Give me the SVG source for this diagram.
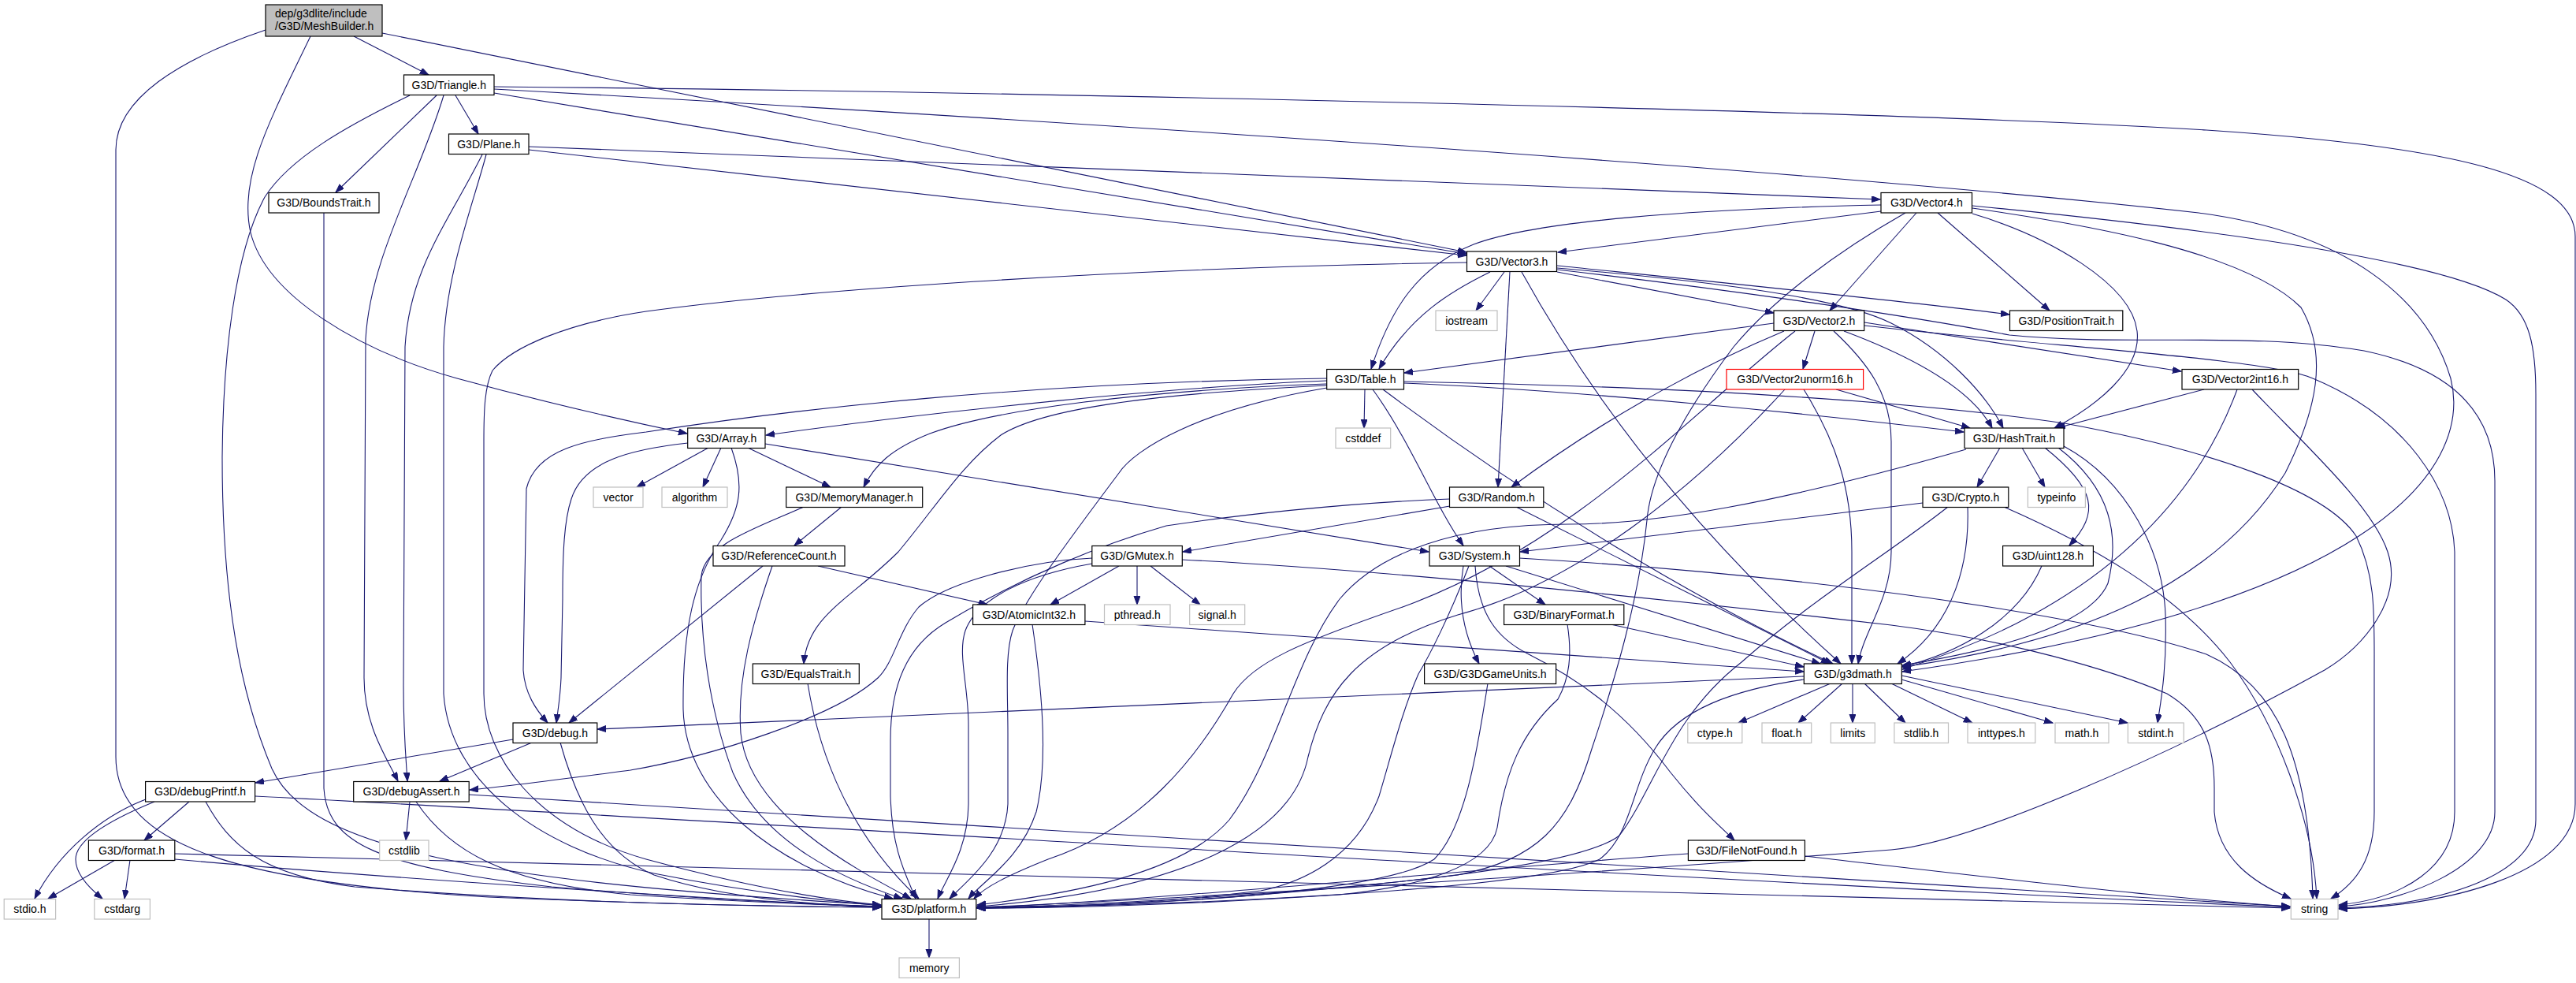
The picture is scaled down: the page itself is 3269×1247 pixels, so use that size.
<svg xmlns="http://www.w3.org/2000/svg" width="3269" height="1247" viewBox="0 0 3269 1247">
<style>
.n rect{fill:#fff;stroke:#000;stroke-width:1.2}
.x rect{fill:#fff;stroke:#bfbfbf;stroke-width:1.2}
.r rect{fill:#fff;stroke:#ff0000;stroke-width:1.2}
text{font-family:"Liberation Sans",Arial,sans-serif;font-size:14px;text-anchor:middle;fill:#000}
.e path{fill:none;stroke:#191970;stroke-width:1.1;marker-end:url(#a)}
</style>
<defs>
<marker id="a" markerUnits="userSpaceOnUse" markerWidth="13" markerHeight="10" refX="11" refY="4" orient="auto">
<path d="M0,0 L11,4 L0,8 z" fill="#191970" stroke="#191970" stroke-width="1"/>
</marker>
</defs>
<rect x="0" y="0" width="3269" height="1247" fill="#fff"/>
<g id="connectors" class="e">
<path d="M449,46 L544,95"/>
<path d="M337,38 C228,75 147,125 147,190 L147,960 C147,1075 310,1120 620,1138 C850,1148 1000,1150 1118,1151"/>
<path d="M394,46 C344,150 302,225 318,295 C338,375 455,445 580,480 C690,510 800,535 872,550"/>
<path d="M485,42 L1861,320"/>
<path d="M578,121 L607,170"/>
<path d="M554,121 L426,244"/>
<path d="M520,121 C440,160 368,200 336,250 C298,320 283,450 282,580 C282,760 305,880 345,975 C390,1075 600,1118 1118,1148"/>
<path d="M563,121 C532,225 470,325 464,430 L462,860 C462,920 490,960 505,991"/>
<path d="M627,118 L1861,322"/>
<path d="M627,113 C1300,150 2300,215 2790,270 C2980,295 3080,380 3110,480 C3140,600 3000,770 2414,852"/>
<path d="M627,110 C1200,115 2400,140 2800,165 C3100,185 3268,220 3268,300 L3268,1020 C3268,1110 3100,1150 2968,1153"/>
<path d="M671,190 L1861,324"/>
<path d="M671,186 L2386,253"/>
<path d="M612,196 C570,280 520,340 514,440 L512,870 C512,930 515,960 517,991"/>
<path d="M617,196 C600,260 565,350 563,440 L563,880 C570,990 680,1075 830,1108 C950,1132 1050,1143 1118,1149"/>
<path d="M411,270 L411,1000 C415,1070 480,1100 700,1125 C900,1142 1030,1147 1118,1150"/>
<path d="M2387,268 L1977,320"/>
<path d="M2387,260 C2150,265 1950,280 1870,310 C1800,338 1765,390 1740,468"/>
<path d="M2418,270 C2330,320 2250,380 2200,440 C2140,520 2095,600 2090,660 C2080,760 2050,860 2020,950 C1990,1050 1950,1090 1850,1110 C1600,1140 1400,1150 1240,1152"/>
<path d="M2432,270 L2322,394"/>
<path d="M2459,270 L2601,394"/>
<path d="M2503,271 C2600,300 2705,360 2712,420 C2718,470 2660,515 2607,543"/>
<path d="M2503,264 C2650,285 2850,320 2920,390 C2955,450 2940,520 2900,600 C2800,760 2600,820 2414,846"/>
<path d="M2503,261 C2800,290 3100,330 3180,380 C3210,400 3218,440 3218,500 L3218,1040 C3218,1110 3100,1148 2968,1152"/>
<path d="M1861,333 C1400,340 1000,370 820,395 C720,410 650,440 625,470 C615,490 614,520 614,560 L614,880 C614,960 680,1050 820,1090 C950,1125 1050,1142 1118,1148"/>
<path d="M1891,345 C1840,370 1790,400 1750,468"/>
<path d="M1909,345 L1873,394"/>
<path d="M1916,345 L1901,618"/>
<path d="M1931,345 C2050,560 2200,720 2336,842"/>
<path d="M1976,345 L2251,397"/>
<path d="M1976,337 C2200,360 2400,380 2550,399"/>
<path d="M1976,340 C2150,355 2330,375 2400,410 C2470,445 2520,500 2542,543"/>
<path d="M1976,342 C2200,368 2420,400 2550,425 C2700,440 2850,420 3000,445 C3120,470 3166,530 3166,610 L3166,1030 C3166,1100 3050,1145 2968,1150"/>
<path d="M2251,410 L1782,473"/>
<path d="M2264,420 C2180,455 2050,520 1918,618"/>
<path d="M2303,420 L2288,468"/>
<path d="M2278,420 C2150,520 2000,690 1780,770 C1650,815 1590,840 1565,880 C1520,960 1450,1050 1330,1090 C1280,1110 1250,1125 1236,1140"/>
<path d="M2327,420 C2370,460 2400,500 2400,560 L2400,700 C2400,760 2365,800 2358,842"/>
<path d="M2340,420 C2420,450 2500,490 2528,543"/>
<path d="M2366,409 L2768,471"/>
<path d="M2366,413 C2600,440 2880,455 2935,480 C3055,530 3112,620 3115,700 L3115,1030 C3115,1100 3050,1140 2968,1148"/>
<path d="M2265,494 C2150,620 2000,740 1850,780 C1720,820 1680,880 1660,960 C1640,1060 1500,1130 1240,1150"/>
<path d="M2289,494 C2330,560 2350,620 2350,700 L2350,842"/>
<path d="M2330,494 L2500,543"/>
<path d="M2797,494 L2610,543"/>
<path d="M2839,494 C2800,600 2700,760 2414,849"/>
<path d="M2858,494 C2920,560 3010,640 3030,700 C3050,760 3000,820 2950,850 C2750,960 2500,1070 2400,1078 C2000,1110 1500,1140 1240,1151"/>
<path d="M1684,483 C1500,490 1200,520 972,552"/>
<path d="M1684,480 C1300,485 1000,520 820,548 C740,558 680,570 668,620 L664,850 C666,880 680,900 695,917"/>
<path d="M1684,487 C1450,495 1260,520 1180,550 C1130,570 1110,590 1096,618"/>
<path d="M1684,489 C1450,500 1320,520 1270,552 C1220,590 1190,640 1140,700 C1080,760 1025,780 1020,842"/>
<path d="M1684,492 C1520,520 1440,570 1420,600 C1360,680 1300,760 1285,800 C1275,830 1279,880 1279,930 L1279,1020 C1276,1080 1230,1115 1205,1140"/>
<path d="M1732,494 L1731,543"/>
<path d="M1742,494 C1790,560 1820,640 1857,692"/>
<path d="M1755,494 C1950,640 2150,760 2326,842"/>
<path d="M1782,486 C2000,495 2300,525 2492,548"/>
<path d="M1782,484 C2100,490 2400,505 2620,537 C2800,570 2950,620 2990,680 C3015,730 3013,780 3013,850 L3013,1030 C3013,1090 2990,1120 2958,1140"/>
<path d="M873,562 C800,570 740,585 725,633 C716,660 714,700 714,760 L712,860 C711,885 708,900 706,917"/>
<path d="M971,563 L1813,700"/>
<path d="M949,568 L1054,618"/>
<path d="M899,568 L808,618"/>
<path d="M915,568 L892,618"/>
<path d="M928,568 C945,615 940,645 915,685 C880,735 866,800 867,900 C870,1010 980,1100 1133,1140"/>
<path d="M1068,643 L1008,692"/>
<path d="M1020,643 C960,670 895,690 890,730 C888,810 900,900 930,980 C970,1070 1070,1115 1145,1140"/>
<path d="M968,718 L722,917"/>
<path d="M980,718 C955,790 935,860 940,930 C950,1030 1080,1100 1156,1140"/>
<path d="M1038,718 L1253,767"/>
<path d="M1420,718 L1333,767"/>
<path d="M1443,718 L1443,767"/>
<path d="M1460,718 L1523,767"/>
<path d="M1386,708 C1300,712 1200,740 1166,770 C1140,800 1135,840 1114,860 C1060,910 900,960 800,977 C700,990 640,998 596,1002"/>
<path d="M1386,715 C1300,730 1240,760 1225,800 C1215,830 1229,870 1229,920 L1229,1020 C1228,1080 1200,1115 1190,1140"/>
<path d="M1500,710 C1800,725 2200,770 2400,793 C2550,812 2680,850 2750,880 C2800,910 2810,950 2810,1000 L2810,1030 C2815,1090 2860,1120 2907,1140"/>
<path d="M1310,792 C1320,860 1332,960 1315,1030 C1295,1090 1250,1115 1229,1140"/>
<path d="M1377,788 L2289,852"/>
<path d="M1840,642 L1501,700"/>
<path d="M1840,633 C1700,638 1560,655 1480,667 C1400,690 1300,730 1200,790 C1150,820 1130,870 1130,940 L1130,1010 C1132,1080 1150,1110 1162,1140"/>
<path d="M1924,643 L2322,842"/>
<path d="M1864,718 C1840,780 1815,830 1800,855 C1780,900 1765,960 1750,1010 C1720,1090 1650,1120 1600,1130 C1450,1148 1320,1152 1240,1152"/>
<path d="M1857,718 C1850,760 1855,800 1877,842"/>
<path d="M1872,718 C1876,780 1900,810 1940,830 C2000,860 2060,900 2120,980 C2160,1030 2185,1050 2201,1066"/>
<path d="M1890,718 L1961,767"/>
<path d="M1911,718 L2310,842"/>
<path d="M1928,708 C2300,730 2650,780 2800,830 C2890,870 2930,960 2935,1140"/>
<path d="M1989,792 C1995,830 1992,860 1977,887 C1930,930 1910,980 1900,1050 C1890,1100 1800,1125 1700,1135 C1500,1148 1350,1152 1240,1152"/>
<path d="M2044,792 L2289,846"/>
<path d="M1888,867 C1875,950 1860,1050 1820,1090 C1760,1130 1500,1148 1240,1151"/>
<path d="M2142,1083 C1900,1100 1500,1140 1240,1152"/>
<path d="M2290,1086 C2500,1110 2750,1140 2906,1150"/>
<path d="M2538,568 L2509,618"/>
<path d="M2566,568 L2595,618"/>
<path d="M2595,568 C2660,620 2665,650 2626,692"/>
<path d="M2612,568 C2680,620 2690,680 2675,740 C2650,800 2500,830 2414,844"/>
<path d="M2619,566 C2700,610 2745,700 2748,780 C2750,850 2742,890 2738,917"/>
<path d="M2495,570 C2250,640 2100,665 1990,665 C1850,665 1750,700 1700,760 C1640,840 1620,960 1560,1040 C1500,1110 1350,1135 1240,1148"/>
<path d="M2440,638 L1929,700"/>
<path d="M2472,643 C2400,700 2300,760 2210,840 C2120,910 2100,1000 2055,1060 C1990,1110 1600,1140 1240,1152"/>
<path d="M2497,643 C2500,730 2470,800 2408,842"/>
<path d="M2543,643 C2650,690 2760,750 2830,840 C2890,920 2935,1040 2940,1140"/>
<path d="M2591,718 C2560,790 2480,830 2413,846"/>
<path d="M2289,862 C2200,875 2130,900 2100,950 C2070,1000 2070,1060 2030,1090 C1950,1130 1500,1148 1240,1152"/>
<path d="M2289,858 L758,925"/>
<path d="M2323,867 L2206,917"/>
<path d="M2338,867 L2282,917"/>
<path d="M2351,867 L2351,917"/>
<path d="M2366,867 L2418,917"/>
<path d="M2400,867 L2503,917"/>
<path d="M2413,862 L2605,917"/>
<path d="M2413,857 L2700,917"/>
<path d="M651,938 L324,993"/>
<path d="M675,942 L558,991"/>
<path d="M711,942 C730,1010 760,1080 830,1110 C920,1140 1030,1148 1118,1150"/>
<path d="M520,1017 L515,1066"/>
<path d="M528,1017 C570,1080 640,1120 800,1135 C950,1145 1050,1148 1118,1150"/>
<path d="M595,1008 C1200,1040 2000,1090 2906,1150"/>
<path d="M240,1017 L183,1066"/>
<path d="M185,1014 C130,1035 75,1080 44,1140"/>
<path d="M196,1017 C140,1040 96,1065 96,1090 C96,1110 115,1128 130,1140"/>
<path d="M261,1017 C290,1070 330,1110 450,1125 C700,1145 950,1150 1118,1151"/>
<path d="M324,1010 C1000,1045 2000,1110 2906,1151"/>
<path d="M146,1091 L61,1140"/>
<path d="M165,1091 L158,1140"/>
<path d="M222,1090 C500,1115 900,1140 1118,1151"/>
<path d="M222,1083 C900,1100 2000,1130 2906,1152"/>
<path d="M1025,867 C1040,960 1080,1060 1166,1140"/>
<path d="M1179,1166 L1179,1215"/>
</g>
<g id="n_meshbuilder" class="n"><rect x="337" y="6" width="148" height="40" style="fill:#bfbfbf"/><text x="349" y="21.5" style="text-anchor:start">dep/g3dlite/include</text><text x="349" y="38" style="text-anchor:start">/G3D/MeshBuilder.h</text></g>
<g id="n_triangle" class="n"><rect x="512.5" y="95" width="114.5" height="25.5"/><text x="569.8" y="112.5">G3D/Triangle.h</text></g>
<g id="n_plane" class="n"><rect x="569.5" y="170" width="101.5" height="25.5"/><text x="620.3" y="187.5">G3D/Plane.h</text></g>
<g id="n_boundstrait" class="n"><rect x="341" y="244.5" width="140" height="25.5"/><text x="411" y="262">G3D/BoundsTrait.h</text></g>
<g id="n_vector4" class="n"><rect x="2387" y="244.5" width="115.5" height="25.5"/><text x="2444.8" y="262">G3D/Vector4.h</text></g>
<g id="n_vector3" class="n"><rect x="1861.5" y="319" width="114" height="25.5"/><text x="1918.5" y="336.5">G3D/Vector3.h</text></g>
<g id="n_iostream" class="x"><rect x="1822" y="394" width="78" height="25.5"/><text x="1861" y="411.5">iostream</text></g>
<g id="n_vector2" class="n"><rect x="2251" y="394" width="114.7" height="25.5"/><text x="2308.3" y="411.5">G3D/Vector2.h</text></g>
<g id="n_positiontrait" class="n"><rect x="2550.5" y="394" width="143.3" height="25.5"/><text x="2622.2" y="411.5">G3D/PositionTrait.h</text></g>
<g id="n_table" class="n"><rect x="1683.7" y="468.5" width="97.8" height="25.5"/><text x="1732.6" y="486">G3D/Table.h</text></g>
<g id="n_vector2unorm16" class="r"><rect x="2191" y="468.5" width="173.6" height="25.5"/><text x="2277.8" y="486">G3D/Vector2unorm16.h</text></g>
<g id="n_vector2int16" class="n"><rect x="2769" y="468.5" width="147.7" height="25.5"/><text x="2842.9" y="486">G3D/Vector2int16.h</text></g>
<g id="n_array" class="n"><rect x="872.7" y="543" width="98.3" height="25.5"/><text x="921.8" y="560.5">G3D/Array.h</text></g>
<g id="n_cstddef" class="x"><rect x="1695" y="543" width="69.7" height="25.5"/><text x="1729.9" y="560.5">cstddef</text></g>
<g id="n_hashtrait" class="n"><rect x="2493" y="543" width="126" height="25.5"/><text x="2556" y="560.5">G3D/HashTrait.h</text></g>
<g id="n_vector" class="x"><rect x="753" y="618" width="63" height="25.5"/><text x="784.5" y="635.5">vector</text></g>
<g id="n_algorithm" class="x"><rect x="840" y="618" width="83" height="25.5"/><text x="881.5" y="635.5">algorithm</text></g>
<g id="n_memorymanager" class="n"><rect x="997.7" y="618" width="173" height="25.5"/><text x="1084.2" y="635.5">G3D/MemoryManager.h</text></g>
<g id="n_random" class="n"><rect x="1839.5" y="618" width="119.3" height="25.5"/><text x="1899.2" y="635.5">G3D/Random.h</text></g>
<g id="n_crypto" class="n"><rect x="2440" y="618" width="108.8" height="25.5"/><text x="2494.4" y="635.5">G3D/Crypto.h</text></g>
<g id="n_typeinfo" class="x"><rect x="2573.4" y="618" width="73" height="25.5"/><text x="2609.9" y="635.5">typeinfo</text></g>
<g id="n_referencecount" class="n"><rect x="905" y="692.5" width="167" height="25.5"/><text x="988.5" y="710">G3D/ReferenceCount.h</text></g>
<g id="n_gmutex" class="n"><rect x="1385.8" y="692.5" width="114.5" height="25.5"/><text x="1443" y="710">G3D/GMutex.h</text></g>
<g id="n_system" class="n"><rect x="1814" y="692.5" width="114.5" height="25.5"/><text x="1871.3" y="710">G3D/System.h</text></g>
<g id="n_uint128" class="n"><rect x="2541.6" y="692.5" width="114.8" height="25.5"/><text x="2599" y="710">G3D/uint128.h</text></g>
<g id="n_atomicint32" class="n"><rect x="1234.6" y="767" width="142.3" height="25.5"/><text x="1305.8" y="784.5">G3D/AtomicInt32.h</text></g>
<g id="n_pthread" class="x"><rect x="1401.5" y="767" width="83.5" height="25.5"/><text x="1443.3" y="784.5">pthread.h</text></g>
<g id="n_signal" class="x"><rect x="1509.7" y="767" width="70" height="25.5"/><text x="1544.7" y="784.5">signal.h</text></g>
<g id="n_binaryformat" class="n"><rect x="1908.6" y="767" width="152.2" height="25.5"/><text x="1984.7" y="784.5">G3D/BinaryFormat.h</text></g>
<g id="n_equalstrait" class="n"><rect x="955.3" y="842" width="135" height="25.5"/><text x="1022.8" y="859.5">G3D/EqualsTrait.h</text></g>
<g id="n_g3dgameunits" class="n"><rect x="1807.6" y="842" width="167" height="25.5"/><text x="1891.1" y="859.5">G3D/G3DGameUnits.h</text></g>
<g id="n_g3dmath" class="n"><rect x="2289.3" y="842" width="124" height="25.5"/><text x="2351.3" y="859.5">G3D/g3dmath.h</text></g>
<g id="n_debug" class="n"><rect x="651" y="917" width="106.8" height="25.5"/><text x="704.4" y="934.5">G3D/debug.h</text></g>
<g id="n_ctype" class="x"><rect x="2141.8" y="917" width="69" height="25.5"/><text x="2176.3" y="934.5">ctype.h</text></g>
<g id="n_float" class="x"><rect x="2236" y="917" width="62.7" height="25.5"/><text x="2267.4" y="934.5">float.h</text></g>
<g id="n_limits" class="x"><rect x="2323.3" y="917" width="56" height="25.5"/><text x="2351.3" y="934.5">limits</text></g>
<g id="n_stdlib" class="x"><rect x="2403.9" y="917" width="68.6" height="25.5"/><text x="2438.2" y="934.5">stdlib.h</text></g>
<g id="n_inttypes" class="x"><rect x="2497" y="917" width="85.8" height="25.5"/><text x="2539.9" y="934.5">inttypes.h</text></g>
<g id="n_math" class="x"><rect x="2608" y="917" width="68" height="25.5"/><text x="2642" y="934.5">math.h</text></g>
<g id="n_stdint" class="x"><rect x="2700.4" y="917" width="70.8" height="25.5"/><text x="2735.8" y="934.5">stdint.h</text></g>
<g id="n_debugprintf" class="n"><rect x="184.6" y="991.5" width="139" height="25.5"/><text x="254.1" y="1009">G3D/debugPrintf.h</text></g>
<g id="n_debugassert" class="n"><rect x="448.7" y="991.5" width="146.5" height="25.5"/><text x="522" y="1009">G3D/debugAssert.h</text></g>
<g id="n_format" class="n"><rect x="112.4" y="1066" width="109.4" height="25.5"/><text x="167.1" y="1083.5">G3D/format.h</text></g>
<g id="n_cstdlib" class="x"><rect x="481.7" y="1066" width="62.3" height="25.5"/><text x="512.9" y="1083.5">cstdlib</text></g>
<g id="n_filenotfound" class="n"><rect x="2142.4" y="1066" width="148" height="25.5"/><text x="2216.4" y="1083.5">G3D/FileNotFound.h</text></g>
<g id="n_stdio" class="x"><rect x="5.2" y="1140.5" width="65.4" height="25.5"/><text x="37.9" y="1158">stdio.h</text></g>
<g id="n_cstdarg" class="x"><rect x="119.8" y="1140.5" width="70.6" height="25.5"/><text x="155.1" y="1158">cstdarg</text></g>
<g id="n_platform" class="n"><rect x="1119" y="1140.5" width="119.8" height="25.5"/><text x="1178.9" y="1158">G3D/platform.h</text></g>
<g id="n_string" class="x"><rect x="2907.3" y="1140.5" width="59.7" height="25.5"/><text x="2937.2" y="1158">string</text></g>
<g id="n_memory" class="x"><rect x="1141" y="1215" width="76.4" height="25.5"/><text x="1179.2" y="1232.5">memory</text></g>
</svg>
